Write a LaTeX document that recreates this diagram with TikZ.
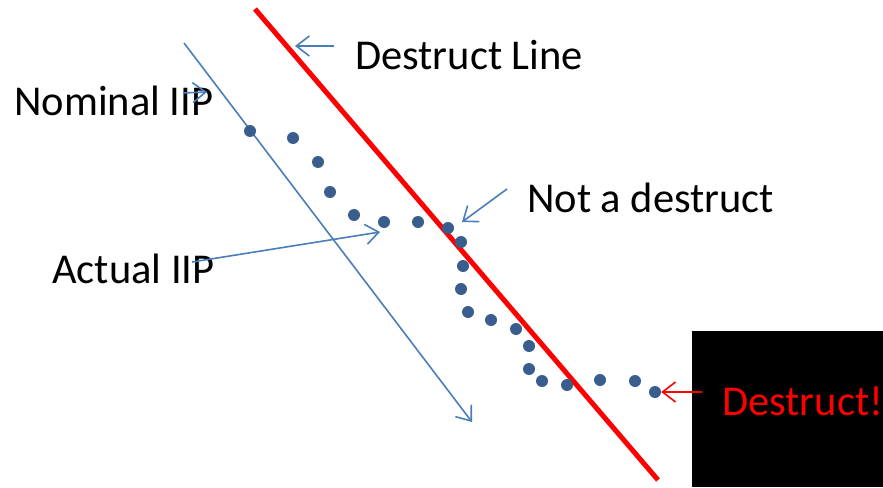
\documentclass[tikz,border=0pt]{standalone}
\usepackage{fontspec}
\setmainfont{Carlito}
\usetikzlibrary{arrows.meta}
\definecolor{lineblue}{HTML}{4A7EBB}
\definecolor{dotblue}{HTML}{395E8E}
\definecolor{destred}{HTML}{FF0000}
\begin{document}
\begin{tikzpicture}[x=1pt,y=-1pt,
    label/.style={anchor=base west,inner sep=0pt,font=\fontsize{42.5}{50}\selectfont},
    pointer/.style={lineblue,line width=1.6pt,-{Straight Barb[length=13pt,width=20pt]}},
    iip/.style={circle,fill=dotblue,inner sep=0pt,minimum size=12pt}]
\useasboundingbox (0,0) rectangle (883,487);
% the destruct line and the nominal path
\coordinate (redtop) at (255,9);
\coordinate (redbot) at (658,480);
\coordinate (nomtop) at (184,43);
\coordinate (nomend) at (472,422);
\draw[destred,line width=5pt] (redtop) -- (redbot);
\draw[pointer] (nomtop) -- (nomend);
% the actual impact points, one dot each
\foreach \i/\px/\py in {1/250/131,2/293/138,3/318/162,4/330/192,5/354/215,
    6/384/222,7/418/222,8/448/228,9/461/242,10/463/266,11/461/289,
    12/468/312,13/491/320,14/516/329,15/529/346,16/529/369,17/542/381,
    18/567/385,19/600/380,20/635/381,21/655/392}
  \node[iip] (d\i) at (\px,\py) {};
% black panel behind the last label
\fill[black] (692,331) rectangle (883,487);
% labels
\node[label] (dline) at (355,70) {Destruct Line};
\node[label] (nominal) at (14,115) {Nominal IIP};
\node[label] (notdes) at (527,212) {Not a destruct};
\node[label] (actual) at (52,283) {Actual IIP};
\node[label,text=destred] (destruct) at (722,415) {Destruct!};
% pointers from the labels
\coordinate (dlTail) at (334,46);
\coordinate (dlTip) at (295,46);
\coordinate (nomTail) at (183,93);
\coordinate (nomTip) at (207,92);
\coordinate (ndTail) at (507,189);
\coordinate (ndTip) at (462,222);
\coordinate (acTail) at (192,262);
\coordinate (acTip) at (380,232);
\coordinate (deTail) at (702,392);
\draw[pointer] (dlTail) -- (dlTip);
\draw[pointer] (nomTail) -- (nomTip);
\draw[pointer] (ndTail) -- (ndTip);
\draw[pointer] (acTail) -- (acTip);
\draw[pointer,destred] (deTail) -- (d21.east);
\end{tikzpicture}
\end{document}
